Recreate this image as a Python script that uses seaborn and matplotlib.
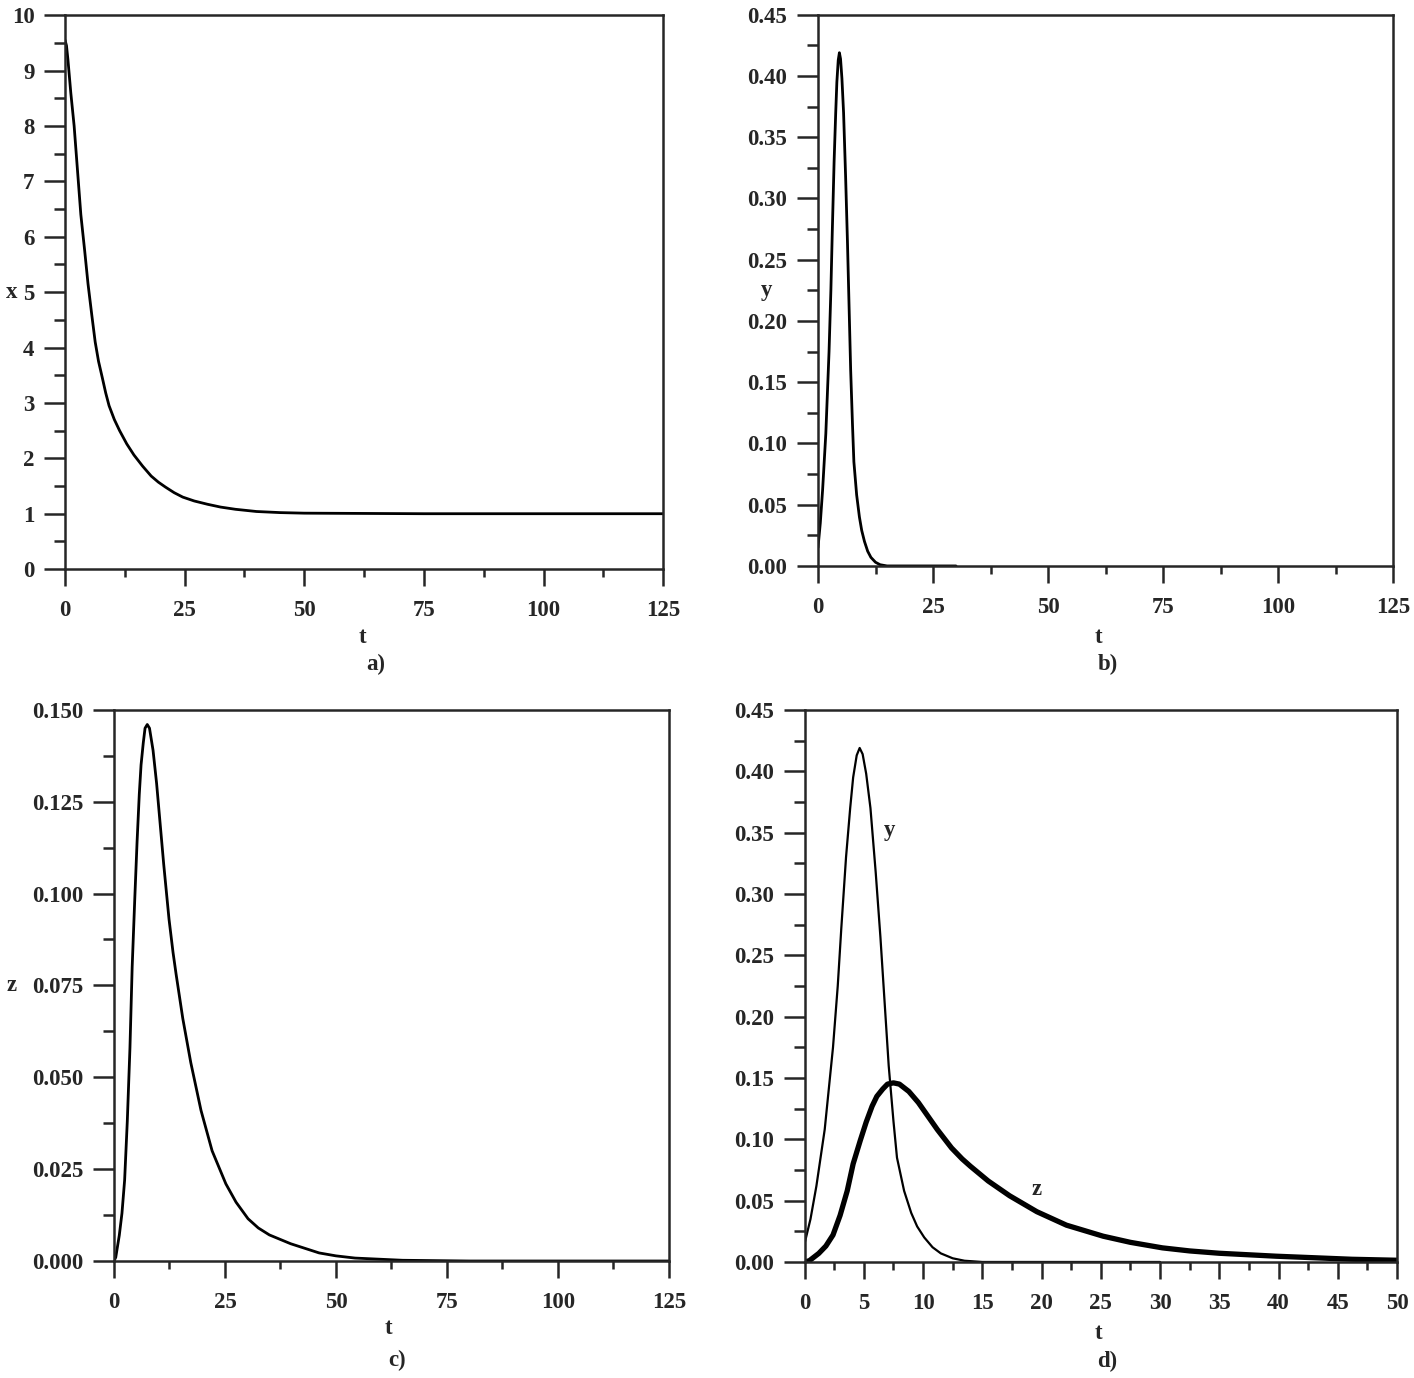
import numpy as np
import pandas as pd
import matplotlib
matplotlib.use('Agg')
import matplotlib.pyplot as plt
import seaborn as sns
from matplotlib.ticker import MultipleLocator, FormatStrFormatter

# data
t_x = [0, 0.3, 0.6, 1.2, 1.9, 2.6, 3.3, 4.1, 4.8, 5.6, 6.3, 7.0, 7.8, 8.5, 9.2, 10.3,
       11.4, 12.9, 14.4, 16.2, 18.0, 19.5, 21.0, 22.8, 24.6, 27.0, 29.8, 32.5, 35.6,
       40.0, 45.0, 50.0, 75.0, 100.0, 125.0]
x_vals = [9.55, 9.45, 9.2, 8.6, 8.0, 7.2, 6.4, 5.75, 5.15, 4.58, 4.1, 3.75, 3.45, 3.18,
          2.95, 2.7, 2.5, 2.26, 2.06, 1.86, 1.68, 1.57, 1.48, 1.38, 1.3, 1.23, 1.17,
          1.12, 1.08, 1.04, 1.02, 1.01, 1.0, 1.0, 1.0]

t_y = [0, 0.5, 1.0, 1.7, 2.4, 2.8, 3.1, 3.5, 3.85, 4.1, 4.4, 4.65, 4.9, 5.2, 5.56,
       6.0, 6.4, 6.8, 7.1, 7.5, 7.8, 8.4, 9.0, 9.5, 10.1, 10.8, 11.5, 12.5, 13.5,
       15.0, 20.0, 30.0]
y_vals = [0.015, 0.035, 0.062, 0.108, 0.175, 0.225, 0.272, 0.33, 0.37, 0.395, 0.413,
          0.419, 0.414, 0.398, 0.37, 0.318, 0.265, 0.205, 0.16, 0.115, 0.085, 0.058,
          0.04, 0.029, 0.02, 0.012, 0.007, 0.003, 0.001, 0.0, 0.0, 0.0]

t_z = [0, 0.4, 1.2, 1.8, 2.4, 3.0, 3.6, 4.1, 4.7, 5.2, 5.7, 6.1, 6.6, 7.0, 7.5, 8.0,
       8.8, 9.6, 10.4, 11.2, 12.4, 13.3, 14.0, 15.5, 17.3, 19.6, 22.1, 25.2, 27.5,
       30.2, 32.5, 35.0, 39.8, 46.2, 50.0, 54.3, 65.0, 80.0, 100.0, 125.0]
z_vals = [0.0, 0.001, 0.007, 0.013, 0.022, 0.038, 0.058, 0.08, 0.099, 0.114, 0.127,
          0.135, 0.141, 0.145, 0.146, 0.145, 0.139, 0.13, 0.119, 0.108, 0.093, 0.084,
          0.078, 0.066, 0.054, 0.041, 0.030, 0.021, 0.016, 0.0115, 0.009, 0.0071, 0.0047,
          0.0022, 0.0014, 0.0008, 0.0002, 0.0, 0.0, 0.0]

df_x = pd.DataFrame({'t': t_x, 'x': x_vals})
df_y = pd.DataFrame({'t': t_y, 'y': y_vals})
df_z = pd.DataFrame({'t': t_z, 'z': z_vals})

sns.set_style('ticks')
plt.rcParams['font.family'] = ['Liberation Serif', 'DejaVu Serif']
plt.rcParams['font.weight'] = 'bold'
plt.rcParams['axes.labelweight'] = 'bold'

fig = plt.figure(figsize=(14.14, 13.78), dpi=100)

ax_a = fig.add_axes([0.046, 0.587, 0.423, 0.402])
ax_b = fig.add_axes([0.5785, 0.5893, 0.4067, 0.400])
ax_c = fig.add_axes([0.0806, 0.0849, 0.3925, 0.400])
ax_d = fig.add_axes([0.569, 0.0842, 0.419, 0.4006])

FS = 16.5


def style(ax, xmax, xmaj, ymax, ymaj, yfmt):
    ax.set_xlim(0, xmax)
    ax.set_ylim(0, ymax)
    ax.xaxis.set_major_locator(MultipleLocator(xmaj))
    ax.xaxis.set_minor_locator(MultipleLocator(xmaj / 2))
    ax.yaxis.set_major_locator(MultipleLocator(ymaj))
    ax.yaxis.set_minor_locator(MultipleLocator(ymaj / 2))
    ax.yaxis.set_major_formatter(FormatStrFormatter(yfmt))
    for s in ax.spines.values():
        s.set_linewidth(1.8)
        s.set_visible(True)
    ax.tick_params(axis='y', which='major', length=15, width=1.8, labelsize=FS, pad=7)
    ax.tick_params(axis='y', which='minor', length=8, width=1.8)
    ax.tick_params(axis='x', which='major', length=12, width=1.8, labelsize=FS, pad=10)
    ax.tick_params(axis='x', which='minor', length=6, width=1.8)
    for lab in ax.get_xticklabels() + ax.get_yticklabels():
        lab.set_fontweight('bold')


def labels(ax, ylab, ylx, tag, ty, tagy, tx=0.495, tagx=0.51):
    ax.set_xlabel('t', fontsize=FS, fontweight='bold')
    ax.xaxis.set_label_coords(tx, ty)
    if ylab:
        ax.set_ylabel(ylab, fontsize=FS, fontweight='bold', rotation=0, va='center')
        ax.yaxis.set_label_coords(ylx, 0.5)
    else:
        ax.set_ylabel('')
    ax.text(tagx, tagy, tag, transform=ax.transAxes, ha='center', va='center',
            fontsize=FS, fontweight='bold')


# a) x
sns.lineplot(data=df_x, x='t', y='x', ax=ax_a, color='black', linewidth=2, sort=False)
style(ax_a, 125, 25, 10, 1, '%d')
labels(ax_a, 'x', -0.09, 'a)', -0.104, -0.172, tx=0.498, tagx=0.52)

# b) y
sns.lineplot(data=df_y, x='t', y='y', ax=ax_b, color='black', linewidth=2, sort=False)
style(ax_b, 125, 25, 0.45, 0.05, '%.2f')
labels(ax_b, 'y', -0.09, 'b)', -0.11, -0.178, tx=0.487, tagx=0.504)

# c) z
sns.lineplot(data=df_z, x='t', y='z', ax=ax_c, color='black', linewidth=2, sort=False)
style(ax_c, 125, 25, 0.150, 0.025, '%.3f')
labels(ax_c, 'z', -0.185, 'c)', -0.104, -0.18)

# d) y and z together
sns.lineplot(data=df_y, x='t', y='y', ax=ax_d, color='black', linewidth=1.6, sort=False)
sns.lineplot(data=df_z[df_z['t'] <= 50], x='t', y='z', ax=ax_d, color='black',
             linewidth=3.8, sort=False)
style(ax_d, 50, 5, 0.45, 0.05, '%.2f')
labels(ax_d, None, 0, 'd)', -0.11, -0.181, tx=0.496, tagx=0.511)
ax_d.text(7.2, 0.352, 'y', fontsize=FS, fontweight='bold', ha='center', va='center')
ax_d.text(19.6, 0.059, 'z', fontsize=FS, fontweight='bold', ha='center', va='center')

fig.savefig('out.png', dpi=100, facecolor='white')
